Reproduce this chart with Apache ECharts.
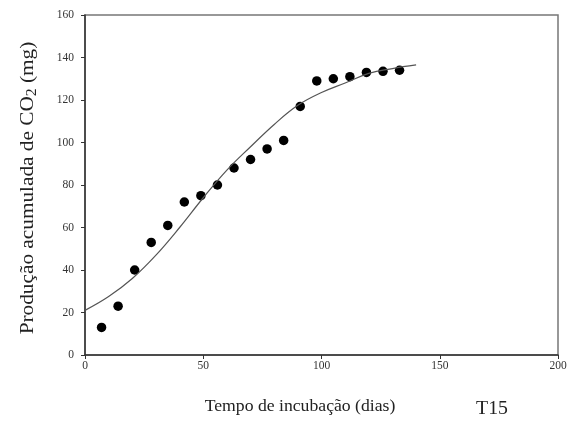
<!DOCTYPE html>
<html>
<head>
<meta charset="utf-8">
<script src="https://cdn.jsdelivr.net/npm/echarts@6/dist/echarts.min.js"></script>
<style>html,body{margin:0;padding:0;background:#fff}#c{width:571px;height:428px}</style>
</head>
<body>
<div id="c"></div>
<script>
// Observed data (days, mg CO2)
const obsDays = [7, 14, 21, 28, 35, 42, 49, 56, 63, 70, 77, 84, 91, 98, 105, 112, 119, 126, 133];
const obsCO2  = [13, 23, 40, 53, 61, 72, 75, 80, 88, 92, 97, 101, 117, 129, 130, 131, 133, 133.5, 134];
// Fitted curve
const fitDays = [0, 10, 20, 30, 40, 50, 60, 70, 80, 90, 100, 110, 120, 130, 140];
const fitCO2  = [21, 27.5, 36, 47, 60, 74, 87, 98, 108.5, 117.5, 123.5, 128, 132.5, 134.8, 136.5];
const xTicks = [0, 50, 100, 150, 200];
const yTicks = [0, 20, 40, 60, 80, 100, 120, 140, 160];

const chart = echarts.init(document.getElementById('c'), null, {renderer: 'canvas'});
const serif = '"Liberation Serif", "DejaVu Serif", serif';
chart.setOption({
  animation: false,
  grid: {left: 85, right: 13, top: 15, bottom: 73, show: true, borderColor: '#777', borderWidth: 1.5, backgroundColor: '#fff'},
  xAxis: {
    type: 'value', min: xTicks[0], max: xTicks[xTicks.length - 1], interval: 50,
    axisLine: {show: true, lineStyle: {color: '#333', width: 1.5}},
    axisTick: {show: true, inside: false, length: 4, lineStyle: {color: '#333'}},
    axisLabel: {fontFamily: serif, fontSize: 11.5, color: '#333', margin: 5},
    splitLine: {show: false}
  },
  yAxis: {
    type: 'value', min: yTicks[0], max: yTicks[yTicks.length - 1], interval: 20,
    axisLine: {show: true, lineStyle: {color: '#333', width: 1.5}},
    axisTick: {show: true, inside: false, length: 4, lineStyle: {color: '#333'}},
    axisLabel: {fontFamily: serif, fontSize: 11.5, color: '#333', margin: 11},
    splitLine: {show: false}
  },
  graphic: [
    {type: 'text', x: 28, y: 188, rotation: Math.PI / 2, scaleX: 1.12, style: {
      text: '{a|Produção acumulada de CO}{s|2}{a| (mg)}',
      rich: {a: {fontFamily: serif, fontSize: 19, fill: '#222'}, s: {fontFamily: serif, fontSize: 14, fill: '#222', padding: [8, 0, 0, 0]}},
      align: 'center', verticalAlign: 'middle'}},
    {type: 'text', x: 300, y: 407, scaleX: 1.04, style: {text: 'Tempo de incubação (dias)', fontFamily: serif, fontSize: 17, fill: '#222', align: 'center', verticalAlign: 'middle'}},
    {type: 'text', x: 492, y: 409, scaleX: 1.1, style: {text: 'T15', fontFamily: serif, fontSize: 18, fill: '#222', align: 'center', verticalAlign: 'middle'}}
  ],
  series: [
    {type: 'line', data: fitDays.map((d, i) => [d, fitCO2[i]]), smooth: 0.4, showSymbol: false,
     lineStyle: {color: '#555', width: 1.2}},
    {type: 'scatter', data: obsDays.map((d, i) => [d, obsCO2[i]]), symbol: 'circle', symbolSize: 9.5,
     itemStyle: {color: '#000', opacity: 1}}
  ]
});
</script>
</body>
</html>
